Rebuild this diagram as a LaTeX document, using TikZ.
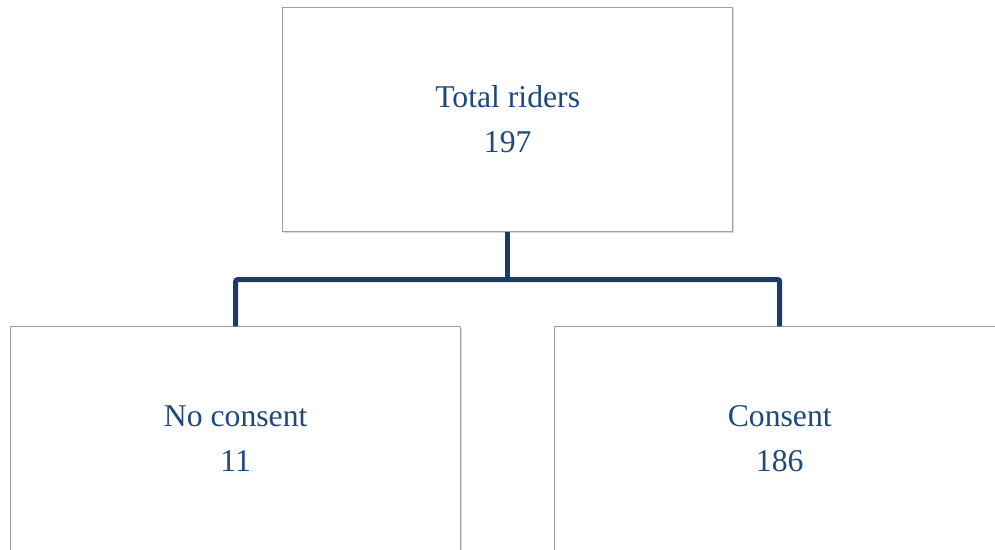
\documentclass[tikz,border=0pt]{standalone}
\usepackage{fontspec}
\setmainfont{Liberation Serif}
\usepackage{tikz}
\usetikzlibrary{shadows}
\definecolor{textblue}{RGB}{31,73,125}
\definecolor{linkblue}{RGB}{28,58,102}

\begin{document}
\begin{tikzpicture}[x=1pt,y=1pt,
  box/.style={draw=gray!75, line width=1pt, fill=white, minimum width=450pt, minimum height=224pt, inner sep=0pt, align=center, text=textblue, font=\fontsize{31.7}{45}\selectfont, drop shadow={shadow xshift=1.5pt, shadow yshift=-2pt, opacity=0.3}},
  link/.style={linkblue, line width=5pt, rounded corners=2pt}]
\useasboundingbox (0,0) rectangle (995,549);
\clip (0,0) rectangle (995,549);
\node[box] (total) at (507.7,429.5) {Total riders\\197};
\node[box] (nocons) at (235.7,110.1) {No consent\\11};
\node[box] (cons) at (779.7,110.1) {Consent\\186};
\draw[link] (total.south) -- ++(0,-47.6) coordinate (split);
\draw[link] (nocons.north) |- (split) -| (cons.north);
\end{tikzpicture}
\end{document}
